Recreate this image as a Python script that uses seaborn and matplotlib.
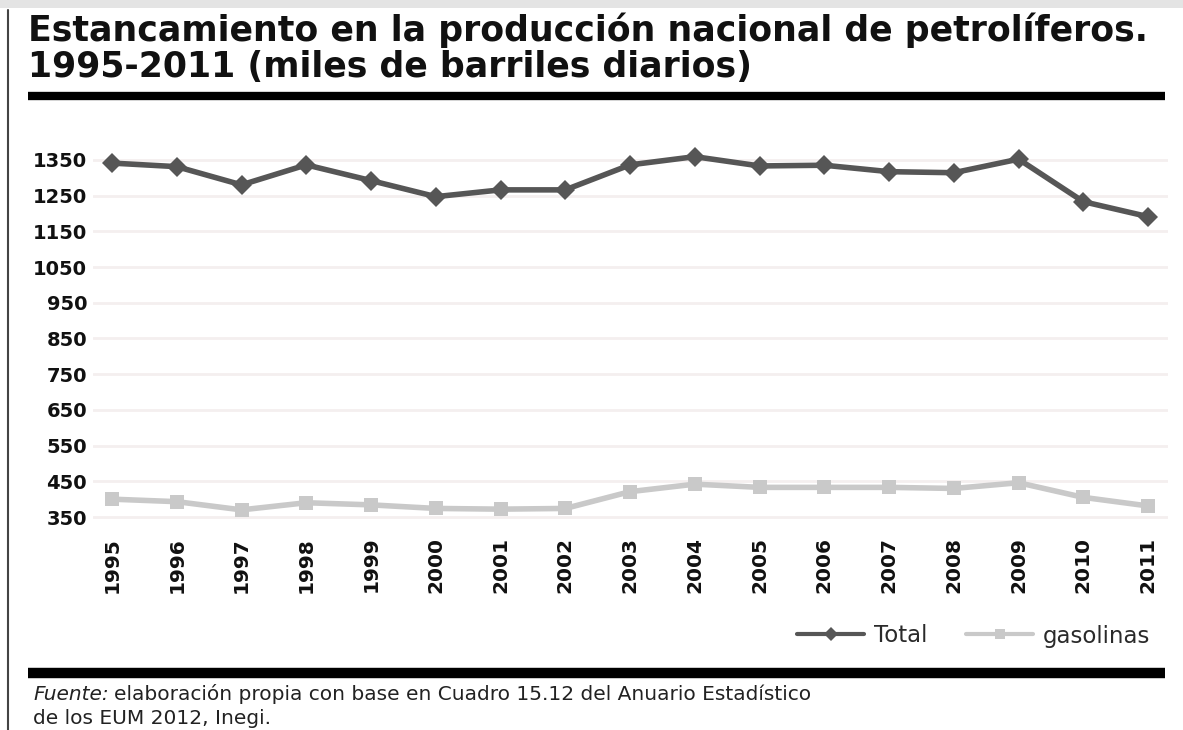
import numpy as np
import pandas as pd
import matplotlib
matplotlib.use('Agg')
import matplotlib.pyplot as plt
from matplotlib.lines import Line2D
import seaborn as sns

# data
years = [1995, 1996, 1997, 1998, 1999, 2000, 2001, 2002, 2003,
         2004, 2005, 2006, 2007, 2008, 2009, 2010, 2011]
total = [1341, 1331, 1280, 1336, 1292, 1247, 1266, 1266, 1336,
         1359, 1333, 1335, 1317, 1314, 1352, 1233, 1191]
gasolinas = [400, 393, 370, 390, 384, 374, 372, 374, 421,
             442, 433, 433, 433, 430, 446, 405, 381]
y_ticks = [350, 450, 550, 650, 750, 850, 950, 1050, 1150, 1250, 1350]

title = ('Estancamiento en la producción nacional de petrolíferos.\n'
         '1995-2011 (miles de barriles diarios)')
fuente_1 = 'elaboración propia con base en Cuadro 15.12 del Anuario Estadístico'
fuente_2 = 'de los EUM 2012, Inegi.'

df = pd.DataFrame({
    'year': years * 2,
    'value': total + gasolinas,
    'serie': ['Total'] * len(years) + ['gasolinas'] * len(years),
})

sns.set_style('white')
plt.rcParams['font.family'] = ['DejaVu Sans']

W, H = 1183, 730
fig = plt.figure(figsize=(W / 100, H / 100), dpi=100)
fig.patch.set_facecolor('white')

# axes placed in pixel terms
ax = fig.add_axes([92.6 / W, 1 - 531.3 / H, 1074.9 / W, 400 / H])

dark = '#565656'
light = '#c9c9c9'
sns.lineplot(data=df, x='year', y='value', hue='serie', style='serie',
             palette={'Total': dark, 'gasolinas': light},
             markers={'Total': 'D', 'gasolinas': 's'}, dashes=False,
             linewidth=4, markersize=10, markeredgewidth=0, ax=ax)

ax.set_xlim(1994.7, 2011.3)
ax.set_ylim(310, 1430)
ax.set_yticks(y_ticks)
ax.set_xticks(years)
ax.set_xticklabels([str(y) for y in years], rotation=90, fontsize=14.5,
                   fontweight='bold', color='#111111')
ax.set_yticklabels([str(v) for v in y_ticks], fontsize=14,
                   fontweight='bold', color='#111111')
ax.tick_params(axis='both', length=0, pad=4)
ax.set_xlabel('')
ax.set_ylabel('')
for s in ax.spines.values():
    s.set_visible(False)
ax.grid(axis='y', color='#f4efef', linewidth=2)
ax.grid(axis='x', visible=False)
ax.set_axisbelow(True)

# legend at the bottom right
handles, labels = ax.get_legend_handles_labels()
leg = ax.legend(handles, labels, loc='center right', ncol=2, frameon=False,
                bbox_to_anchor=(1162 / W, 1 - 636 / H), bbox_transform=fig.transFigure,
                fontsize=16.5, handlelength=2.9, handletextpad=0.45,
                columnspacing=1.7, borderpad=0)
for h in leg.legend_handles:
    h.set_linewidth(3)
    h.set_markersize(7)
for t in leg.get_texts():
    t.set_color('#2a2a2a')

# title and rules
fig.text(28 / W, 1 - 12 / H, title, ha='left', va='top', fontsize=25,
         fontweight='bold', color='#111111', linespacing=1.08)
fig.add_artist(Line2D([28 / W, 1165 / W], [1 - 96 / H] * 2, color='black',
                      linewidth=6, solid_capstyle='butt'))
fig.add_artist(Line2D([28 / W, 1165 / W], [1 - 673 / H] * 2, color='black',
                      linewidth=7.5, solid_capstyle='butt'))

# page frame remnants
fig.add_artist(Line2D([8 / W, 8 / W], [0, 1 - 10 / H], color='#444444',
                      linewidth=1.5))
fig.patches.append(plt.Rectangle((0, 1 - 8 / H), 1, 8 / H, transform=fig.transFigure,
                                 facecolor='#e4e4e4', edgecolor='none'))

# source note
t1 = fig.text(33 / W, 1 - 695 / H, 'Fuente:', ha='left', va='center',
              fontsize=14.5, style='italic', color='#222222')
ax.annotate(fuente_1, xy=(1, 0), xycoords=t1, xytext=(4, 0),
            textcoords='offset points', ha='left', va='bottom',
            fontsize=14.5, color='#222222', annotation_clip=False)
fig.text(33 / W, 1 - 718 / H, fuente_2, ha='left', va='center',
         fontsize=14.5, color='#222222')

fig.savefig('out.png', dpi=100, facecolor='white')
